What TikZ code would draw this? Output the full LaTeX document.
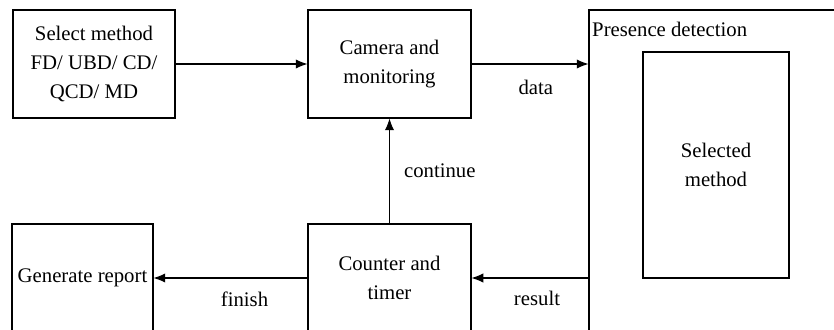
\documentclass[tikz,border=0pt]{standalone}
\usepackage{fontspec}
\setmainfont{Liberation Serif}
\usetikzlibrary{arrows.meta,positioning}

\tikzset{
  block/.style={draw, line width=0.9pt, align=center, inner sep=0pt},
  flow/.style={-{Latex[length=10pt,width=8pt]}, line width=0.9pt},
  tag/.style={inner sep=0pt},
}

\begin{document}
\begin{tikzpicture}[x=0.03cm, y=-0.03cm, font=\fontsize{17.7}{24.6}\selectfont]
    \useasboundingbox (0,0) rectangle (834,329);
    \clip (0,0) rectangle (834,329);

    % upper row
    \node[block, minimum width=4.86cm, minimum height=3.24cm] (select) at (94,64)
        {Select method\\FD/ UBD/ CD/\\QCD/ MD};
    \node[block, minimum width=4.89cm, minimum height=3.24cm] (camera) at (389.5,64)
        {Camera and\\monitoring};

    % presence detection (runs off the page)
    \node[block, minimum width=8.73cm, minimum height=10.5cm] (presence) at (734.5,185) {};
    \node[tag, anchor=west] (presencelabel) at (592,29) {Presence detection};
    \node[block, minimum width=4.38cm, minimum height=6.78cm] (selected) at (716,165)
        {Selected\\method};

    % lower row
    \node[block, minimum width=4.89cm, minimum height=3.24cm] (counter) at (389.5,278)
        {Counter and\\timer};
    \node[block, minimum width=4.23cm, minimum height=3.24cm] (report) at (82.5,278)
        {Generate report};

    % connectors
    \draw[flow] (select) -- (camera);
    \draw[flow] (camera.east) -- node[tag, below=13pt, xshift=5pt] (datalabel) {data}
        (camera.east -| presence.west);
    \draw[flow] (presence.west |- counter.east) -- node[tag, below=11pt, xshift=6pt] (resultlabel) {result}
        (counter.east);
    \draw[flow] (counter) -- node[tag, below=11pt, xshift=12pt] (finishlabel) {finish} (report);
    \draw[flow] (counter) -- node[tag, right=12pt] (continuelabel) {continue} (camera);
\end{tikzpicture}
\end{document}
